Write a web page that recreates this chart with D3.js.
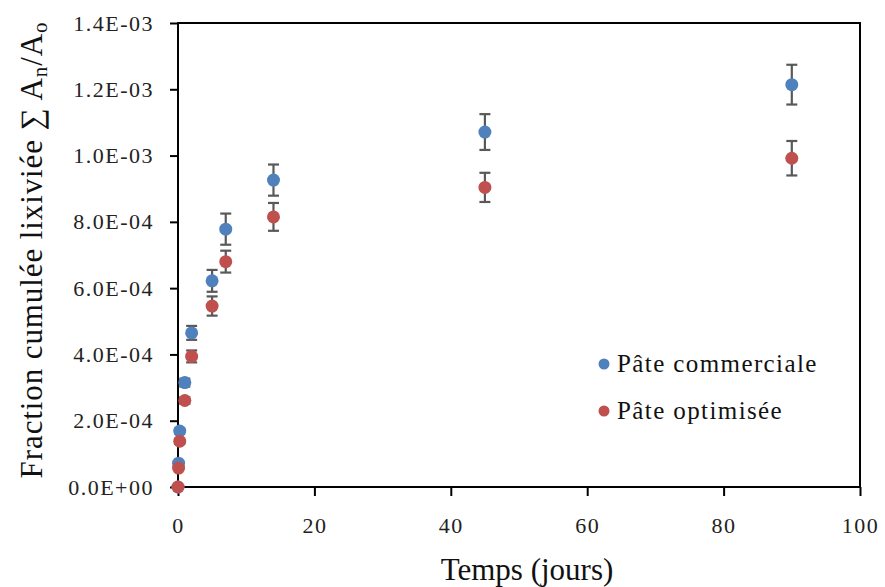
<!DOCTYPE html>
<html>
<head>
<meta charset="utf-8">
<script src="https://cdn.jsdelivr.net/npm/d3@7"></script>
<style>
  html, body { margin: 0; padding: 0; background: #fff; }
  svg { display: block; }
  svg text { font-family: "Liberation Serif", "Times New Roman", Times, serif; }
</style>
</head>
<body>
<svg id="chart" width="885" height="587"></svg>
<script>
// Leaching time in days
const times = [0, 0.083, 0.25, 1, 2, 5, 7, 14, 45, 90];

// Cumulative leached fraction ΣAn/A0 and standard deviation
const commercialValues = [0, 7.2e-5, 1.69e-4, 3.15e-4, 4.65e-4, 6.22e-4, 7.78e-4, 9.26e-4, 1.071e-3, 1.214e-3];
const commercialErrors = [0, 5e-6, 8e-6, 1.2e-5, 2.1e-5, 3.3e-5, 4.7e-5, 4.7e-5, 5.4e-5, 6.0e-5];
const optimisedValues  = [0, 5.7e-5, 1.38e-4, 2.61e-4, 3.94e-4, 5.46e-4, 6.80e-4, 8.15e-4, 9.04e-4, 9.92e-4];
const optimisedErrors  = [0, 5e-6, 8e-6, 1.0e-5, 1.8e-5, 2.9e-5, 3.3e-5, 4.2e-5, 4.4e-5, 5.2e-5];

const seriesNames = ["Pâte commerciale", "Pâte optimisée"];
const seriesColors = ["#4F81BD", "#C0504D"];

const xTicks = [0, 20, 40, 60, 80, 100];
const yTicks = [0, 2e-4, 4e-4, 6e-4, 8e-4, 1.0e-3, 1.2e-3, 1.4e-3];
const yTickLabels = ["0.0E+00", "2.0E-04", "4.0E-04", "6.0E-04", "8.0E-04", "1.0E-03", "1.2E-03", "1.4E-03"];

const SERIF = "Liberation Serif";

const svg = d3.select("#chart");
const W = 885, H = 587;
const m = { left: 178, right: 25, top: 23, bottom: 100 };

const x = d3.scaleLinear().domain([0, 100]).range([m.left, W - m.right]);
const y = d3.scaleLinear().domain([0, 1.4e-3]).range([H - m.bottom, m.top]);

svg.append("rect").attr("width", W).attr("height", H).attr("fill", "#fff");

// Axes
const xAxis = svg.append("g")
  .attr("transform", `translate(0,${H - m.bottom})`)
  .call(d3.axisBottom(x).tickValues(xTicks).tickSize(9).tickPadding(21).tickFormat(d3.format("d")));
const yAxis = svg.append("g")
  .attr("transform", `translate(${m.left},0)`)
  .call(d3.axisLeft(y).tickValues(yTicks).tickSize(8).tickPadding(16)
    .tickFormat((d, i) => yTickLabels[i]));

[xAxis, yAxis].forEach(g => {
  g.attr("font-family", SERIF).attr("font-size", 22);
  g.select(".domain").remove();
  g.selectAll(".tick line").attr("stroke", "#000").attr("stroke-width", 2);
  g.selectAll(".tick text")
    .attr("fill", "#222")
    .attr("font-family", SERIF)
    .attr("font-size", 22)
    .attr("letter-spacing", 1.5);
});

// Plot frame
svg.append("rect")
  .attr("x", x(0)).attr("y", y(1.4e-3))
  .attr("width", x(100) - x(0)).attr("height", y(0) - y(1.4e-3))
  .attr("fill", "none").attr("stroke", "#000").attr("stroke-width", 2);

// Series: error bars first, then markers
const series = [
  { values: commercialValues, errors: commercialErrors, color: seriesColors[0] },
  { values: optimisedValues, errors: optimisedErrors, color: seriesColors[1] }
];

const capHalf = 5.5;
series.forEach(s => {
  const pts = times.map((t, i) => ({ t, v: s.values[i], e: s.errors[i] }));
  const g = svg.append("g");
  const eb = g.append("g").attr("stroke", "#595959").attr("stroke-width", 2.2);
  pts.filter(p => p.e > 0).forEach(p => {
    const cx = x(p.t), y1 = y(p.v + p.e), y2 = y(p.v - p.e);
    eb.append("line").attr("x1", cx).attr("x2", cx).attr("y1", y1).attr("y2", y2);
    eb.append("line").attr("x1", cx - capHalf).attr("x2", cx + capHalf).attr("y1", y1).attr("y2", y1);
    eb.append("line").attr("x1", cx - capHalf).attr("x2", cx + capHalf).attr("y1", y2).attr("y2", y2);
  });
  g.selectAll("circle").data(pts).join("circle")
    .attr("cx", p => x(p.t)).attr("cy", p => y(p.v))
    .attr("r", 6.5).attr("fill", s.color);
});

// Legend
const legend = svg.append("g");
seriesNames.forEach((name, i) => {
  const ly = 364 + i * 47;
  legend.append("circle").attr("cx", 604).attr("cy", ly).attr("r", 5.5).attr("fill", seriesColors[i]);
  legend.append("text").attr("x", 617).attr("y", ly + 8)
    .attr("fill", "#111")
    .attr("font-family", SERIF)
    .attr("font-size", 25).attr("letter-spacing", 1.4)
    .text(name);
});

// Axis titles
svg.append("text")
  .attr("x", (x(0) + x(100)) / 2 + 8).attr("y", 580)
  .attr("text-anchor", "middle").attr("fill", "#111")
  .attr("font-family", SERIF)
  .attr("font-size", 31)
  .text("Temps (jours)");

const yt = svg.append("text")
  .attr("transform", `translate(42,${(y(0) + y(1.4e-3)) / 2 - 5}) rotate(-90)`)
  .attr("text-anchor", "middle").attr("fill", "#111")
  .attr("font-family", SERIF)
  .attr("font-size", 31).attr("letter-spacing", 0.9);
yt.append("tspan").text("Fraction cumulée lixiviée ∑ A");
yt.append("tspan").attr("baseline-shift", "-25%").attr("font-size", 21).text("n");
yt.append("tspan").text("/A");
yt.append("tspan").attr("baseline-shift", "-25%").attr("font-size", 21).text("o");
</script>
</body>
</html>
